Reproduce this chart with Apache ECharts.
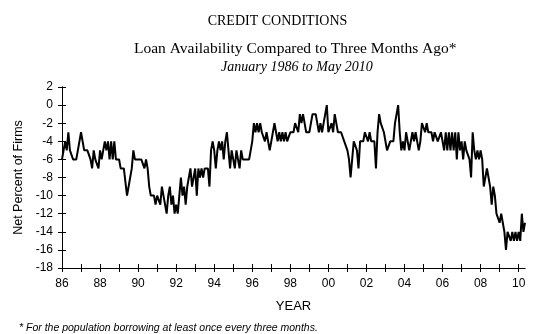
<!DOCTYPE html>
<html>
<head>
<meta charset="utf-8">
<script src="https://cdn.jsdelivr.net/npm/echarts@6/dist/echarts.min.js"></script>
<style>
html,body{margin:0;padding:0;background:#fff;}
#chart{width:555px;height:334px;}
</style>
</head>
<body>
<div id="chart"></div>
<script>
const v1986 = [-6,-5,-4,-5,-3,-5,-5,-6,-6,-6,-5,-4];
const v1987 = [-3,-4,-5,-5,-5,-5,-6,-7,-5,-6,-6,-7];
const v1988 = [-5,-6,-5,-4,-5,-4,-6,-4,-6,-4,-6,-6];
const v1989 = [-6,-7,-7,-7,-7,-10,-10,-8,-7,-5,-6,-6];
const v1990 = [-6,-6,-6,-6,-7,-6,-7,-9,-10,-10,-10,-11];
const v1991 = [-10,-10,-11,-9,-10,-11,-12,-10,-9,-11,-10,-12];
const v1992 = [-11,-12,-10,-8,-10,-9,-11,-9,-8,-7,-9,-8];
const v1993 = [-7,-10,-7,-8,-7,-8,-7,-7,-7,-9,-5,-4];
const v1994 = [-5,-7,-5,-4,-5,-4,-6,-4,-3,-5,-7,-5];
const v1995 = [-6,-7,-5,-6,-7,-5,-6,-6,-6,-6,-6,-6];
const v1996 = [-4,-2,-3,-2,-3,-2,-3,-3,-4,-3,-4,-5];
const v1997 = [-4,-3,-2,-3,-4,-3,-4,-3,-4,-3,-4,-4];
const v1998 = [-3,-3,-3,-2,-2,-3,-1,-2,-1,-2,-3,-3];
const v1999 = [-3,-2,-1,-1,-1,-1,-3,-2,-3,-2,-1,0];
const v2000 = [-3,-3,-2,-3,-1,-2,-3,-3,-3,-3,-4,-4];
const v2001 = [-5,-6,-8,-6,-4,-4,-5,-7,-4,-4,-4,-3];
const v2002 = [-3,-4,-3,-4,-4,-4,-7,-3,-1,-2,-2,-3];
const v2003 = [-3,-5,-5,-4,-4,-4,-2,-2,0,-3,-5,-4];
const v2004 = [-5,-3,-3,-5,-4,-3,-4,-3,-4,-5,-4,-2];
const v2005 = [-2,-3,-2,-3,-3,-3,-4,-3,-3,-4,-4,-3];
const v2006 = [-4,-5,-3,-5,-3,-5,-3,-5,-3,-6,-3,-5];
const v2007 = [-4,-6,-4,-5,-5,-6,-8,-3,-5,-6,-5,-6];
const v2008 = [-5,-6,-9,-8,-7,-8,-9,-11,-9,-10,-12,-12];
const v2009 = [-13,-12,-13,-14,-16,-14,-14,-15,-14,-15,-14,-15];
const v2010 = [-14,-15,-12,-14,-13];

const yearlyValues = [v1986,v1987,v1988,v1989,v1990,v1991,v1992,v1993,v1994,v1995,v1996,v1997,v1998,v1999,v2000,v2001,v2002,v2003,v2004,v2005,v2006,v2007,v2008,v2009,v2010];
const tickLabels = ['86','88','90','92','94','96','98','00','02','04','06','08','10'];

const categories = [];
const values = [];
yearlyValues.forEach(function(arr, yi){
  arr.forEach(function(v, mi){
    categories.push((1986 + yi) + '-' + (mi + 1));
    values.push(v);
  });
});

const chart = echarts.init(document.getElementById('chart'), null, {renderer:'canvas'});
const axisCommon = {
  type: 'category',
  data: categories,
  boundaryGap: false,
  position: 'bottom',
  axisLine: {show: true, onZero: false, lineStyle: {color: '#000', width: 1}},
  splitLine: {show: false}
};
chart.setOption({
  animation: false,
  backgroundColor: '#fff',
  title: [
    {text: 'CREDIT CONDITIONS', left: 'center', top: 9,
     textStyle: {fontFamily: 'Liberation Serif', fontSize: 14, fontWeight: 'normal', color: '#000'}},
    {text: 'Loan Availability Compared to Three Months Ago*', left: 129, top: 36,
     textStyle: {fontFamily: 'Liberation Serif', fontSize: 15.5, fontWeight: 'normal', color: '#000'}},
    {text: 'January 1986 to May 2010', left: 216, top: 55,
     textStyle: {fontFamily: 'Liberation Serif', fontSize: 14, fontStyle: 'italic', fontWeight: 'normal', color: '#000'}},
    {text: '* For the population borrowing at least once every three months.', left: 14, top: 318,
     textStyle: {fontFamily: 'Liberation Sans', fontSize: 10.5, fontStyle: 'italic', fontWeight: 'normal', color: '#000'}}
  ],
  grid: {left: 62, right: 30, top: 87, bottom: 66, containLabel: false},
  xAxis: [
    Object.assign({}, axisCommon, {
      name: 'YEAR', nameLocation: 'middle', nameGap: 32,
      nameTextStyle: {fontFamily: 'Liberation Sans', fontSize: 13, color: '#000'},
      axisTick: {show: true, inside: false, length: 4, interval: function(i){return i % 12 === 0;}, lineStyle: {color: '#000'}},
      axisLabel: {show: true, interval: function(i){return i % 24 === 0;}, margin: 10,
        fontFamily: 'Liberation Sans', fontSize: 12, color: '#000',
        formatter: function(val, i){ return tickLabels[Math.floor(i / 24)]; }}
    }),
    Object.assign({}, axisCommon, {
      axisTick: {show: true, inside: true, length: 4, interval: function(i){return i % 12 === 0;}, lineStyle: {color: '#000'}},
      axisLabel: {show: false}
    })
  ],
  yAxis: [
    {type: 'value', min: -18, max: 2, interval: 2,
     name: 'Net Percent of Firms', nameLocation: 'middle', nameGap: 26, nameRotate: 90,
     nameTextStyle: {fontFamily: 'Liberation Sans', fontSize: 12.5, color: '#000'},
     axisLine: {show: true, onZero: false, lineStyle: {color: '#000', width: 1}},
     axisTick: {show: true, inside: false, length: 4, lineStyle: {color: '#000'}},
     axisLabel: {margin: 9, fontFamily: 'Liberation Sans', fontSize: 12, color: '#000'},
     splitLine: {show: false}},
    {type: 'value', min: -18, max: 2, interval: 2, position: 'left', offset: 0,
     axisLine: {show: true, onZero: false, lineStyle: {color: '#000', width: 1}},
     axisTick: {show: true, inside: true, length: 4, lineStyle: {color: '#000'}},
     axisLabel: {show: false},
     splitLine: {show: false}}
  ],
  series: [{
    type: 'line',
    data: values,
    xAxisIndex: 0,
    yAxisIndex: 0,
    showSymbol: false,
    symbol: 'none',
    lineStyle: {color: '#000', width: 2},
    itemStyle: {color: '#000'}
  }]
});
</script>
</body>
</html>
